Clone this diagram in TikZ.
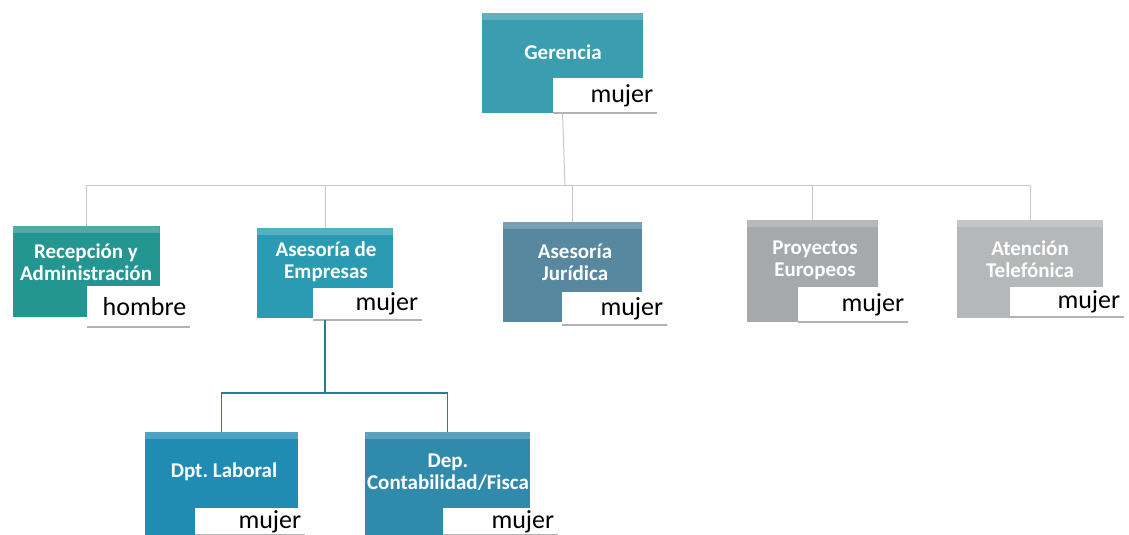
\documentclass[tikz,border=0pt]{standalone}
\usepackage{fontspec}
\setmainfont{Carlito}
\usepackage{xcolor}
\definecolor{gerblue}{RGB}{58,157,176}
\definecolor{recgreen}{RGB}{36,150,146}
\definecolor{empblue}{RGB}{42,155,178}
\definecolor{jurblue}{RGB}{88,135,160}
\definecolor{proygray}{RGB}{166,168,170}
\definecolor{atengray}{RGB}{182,183,184}
\definecolor{labblue}{RGB}{32,140,180}
\definecolor{contblue}{RGB}{48,138,172}
\definecolor{busgray}{RGB}{200,200,200}
\definecolor{subteal}{RGB}{40,125,148}

\begin{document}
\begin{tikzpicture}[x=1pt,y=-1pt,
  unit/.style={rectangle,inner sep=0pt,
    path picture={\fill[white,opacity=0.2] (path picture bounding box.north west) rectangle ([yshift=-7pt]path picture bounding box.north east);}},
  lbl/.style={text=white,font=\fontsize{21}{22}\selectfont\bfseries,align=center},
  tag/.style={rectangle,fill=white,inner xsep=4pt,inner ysep=0pt,align=right,
    font=\fontsize{26}{28}\selectfont,
    path picture={\draw[gray!60,line width=2pt] (path picture bounding box.south west) -- (path picture bounding box.south east);}},
  busline/.style={busgray,line width=1pt},
  subline/.style={subteal,line width=1.6pt}]
\useasboundingbox (0,0) rectangle (1129,535);
\clip (0,0) rectangle (1129,535);
\fill[white] (0,0) rectangle (1129,535);

\node[unit,fill=gerblue,minimum width=161pt,minimum height=100pt] (ger) at (562.5,63) {};
\node[lbl] (gertxt) at (563,52) {Gerencia};
\node[tag,text width=96pt,minimum height=35pt,anchor=north west] (gertag) at (553,78) {mujer};

\coordinate (bus) at (565,185);
\draw[busline] (ger.south) -- (bus);

\node[unit,fill=recgreen,minimum width=147pt,minimum height=91pt] (rec) at (86,271.5) {};
\node[lbl] (rectxt) at (86,262) {Recepción y\\Administración};
\node[tag,text width=95pt,minimum height=41pt,anchor=north west] (rectag) at (87,286) {hombre};

\node[unit,fill=empblue,minimum width=136pt,minimum height=90pt] (emp) at (325,273) {};
\node[lbl] (emptxt) at (326,262) {Asesoría de\\Empresas};
\node[tag,text width=101pt,minimum height=32pt,anchor=north west] (emptag) at (313,288) {mujer};

\node[unit,fill=jurblue,minimum width=139pt,minimum height=100pt] (jur) at (572.5,272) {};
\node[lbl] (jurtxt) at (575,262) {Asesoría\\Jurídica};
\node[tag,text width=97pt,minimum height=33pt,anchor=north west] (jurtag) at (562,292) {mujer};

\node[unit,fill=proygray,minimum width=131pt,minimum height=102pt] (proy) at (812.5,271) {};
\node[lbl] (proytxt) at (815,260) {Proyectos\\Europeos};
\node[tag,text width=102pt,minimum height=35pt,anchor=north west] (proytag) at (798,287) {mujer};

\node[unit,fill=atengray,minimum width=146pt,minimum height=98pt] (aten) at (1030,269) {};
\node[lbl] (atentxt) at (1030,259) {Atención\\Telefónica};
\node[tag,text width=106pt,minimum height=30pt,anchor=north west] (atentag) at (1010,287) {mujer};

\draw[busline] (bus) -| (rec.north);
\draw[busline] (bus) -| (emp.north);
\draw[busline] (bus) -| (jur.north);
\draw[busline] (bus) -| (proy.north);
\draw[busline] (bus) -| (aten.north);

\node[unit,fill=labblue,minimum width=153pt,minimum height=116pt] (lab) at (221.5,490) {};
\node[lbl] (labtxt) at (224,472) {Dpt.\ Laboral};
\node[tag,text width=102pt,minimum height=27pt,anchor=north west] (labtag) at (195,508) {mujer};

\node[unit,fill=contblue,minimum width=165pt,minimum height=116pt] (cont) at (447.5,490) {};
\node[lbl] (conttxt) at (448,472) {Dep.\\Contabilidad/Fisca};
\node[tag,text width=107pt,minimum height=27pt,anchor=north west] (conttag) at (443,508) {mujer};

\coordinate (sub) at (325,393);
\draw[subline] (emptag.south -| emp.south) -- (sub);
\draw[subline] (sub) -| (lab.north);
\draw[subline] (sub) -| (cont.north);
\end{tikzpicture}
\end{document}
